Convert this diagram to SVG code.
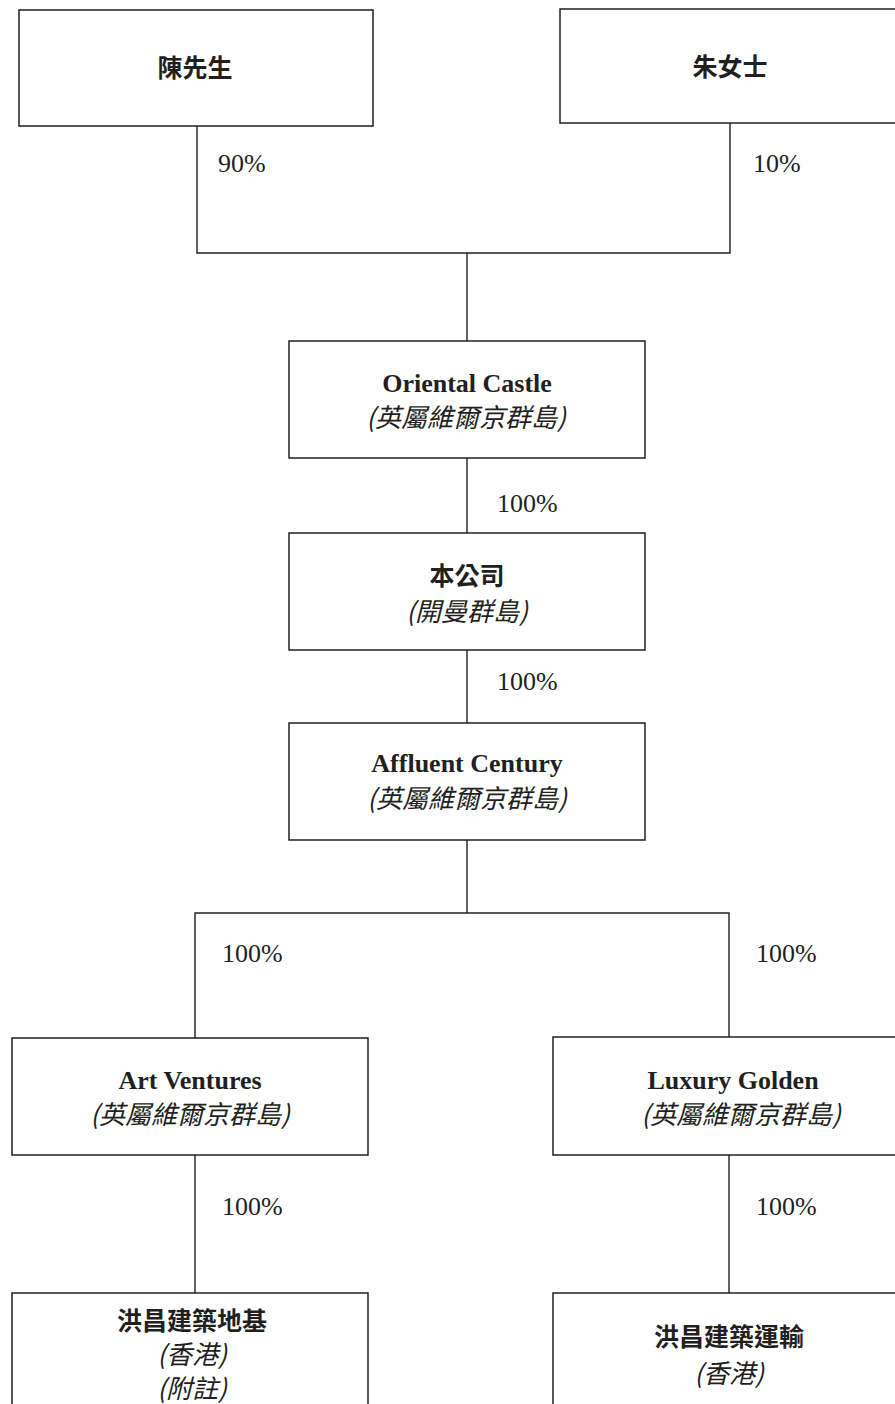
<svg xmlns="http://www.w3.org/2000/svg" width="895" height="1404" viewBox="0 0 895 1404">
<style>
.box{fill:#fff;stroke:#231f20;stroke-width:1.5}
.ln{fill:none;stroke:#231f20;stroke-width:1.4}
.en{font-family:"Liberation Serif","Times New Roman",serif;font-weight:bold;font-size:26px;fill:#231f20;text-anchor:middle}
.zh{font-family:"Noto Sans CJK TC","Noto Sans CJK SC",sans-serif;font-weight:bold;font-size:25px;fill:#231f20;text-anchor:middle}
.it{font-family:"Noto Sans CJK TC","Noto Sans CJK SC",sans-serif;font-style:italic;font-weight:normal;font-size:26px;fill:#231f20;text-anchor:middle}
.pc{font-family:"Liberation Serif","Times New Roman",serif;font-size:26px;fill:#231f20}
</style>
<rect width="895" height="1404" fill="#fff"/>
<g id="connectors">
<polyline class="ln" points="197,126 197,253 730,253 730,123"/>
<line class="ln" x1="467" y1="253" x2="467" y2="341"/>
<line class="ln" x1="467" y1="458" x2="467" y2="533"/>
<line class="ln" x1="467" y1="650" x2="467" y2="723"/>
<line class="ln" x1="467" y1="840" x2="467" y2="913"/>
<polyline class="ln" points="195,1038 195,913 729,913 729,1037"/>
<line class="ln" x1="195" y1="1155" x2="195" y2="1293"/>
<line class="ln" x1="729" y1="1155" x2="729" y2="1293"/>
<text class="pc" x="218" y="172">90%</text>
<text class="pc" x="753" y="172">10%</text>
<text class="pc" x="497" y="512">100%</text>
<text class="pc" x="497" y="690">100%</text>
<text class="pc" x="222" y="962">100%</text>
<text class="pc" x="756" y="962">100%</text>
<text class="pc" x="222" y="1215">100%</text>
<text class="pc" x="756" y="1215">100%</text>
</g>
<g id="chen">
<rect class="box" x="19" y="10" width="354" height="116"/>
<text class="zh" x="195" y="77">陳先生</text>
</g>
<g id="zhu">
<rect class="box" x="560" y="9" width="345" height="114"/>
<text class="zh" x="730" y="76">朱女士</text>
</g>
<g id="oriental">
<rect class="box" x="289" y="341" width="356" height="117"/>
<text class="en" x="467" y="392">Oriental Castle</text>
<text class="it" x="466" y="427">(英屬維爾京群島)</text>
</g>
<g id="company">
<rect class="box" x="289" y="533" width="356" height="117"/>
<text class="zh" x="467" y="585">本公司</text>
<text class="it" x="467" y="621">(開曼群島)</text>
</g>
<g id="affluent">
<rect class="box" x="289" y="723" width="356" height="117"/>
<text class="en" x="467" y="772">Affluent Century</text>
<text class="it" x="467" y="808">(英屬維爾京群島)</text>
</g>
<g id="art">
<rect class="box" x="12" y="1038" width="356" height="117"/>
<text class="en" x="190" y="1089">Art Ventures</text>
<text class="it" x="190" y="1124">(英屬維爾京群島)</text>
</g>
<g id="luxury">
<rect class="box" x="553" y="1037" width="352" height="118"/>
<text class="en" x="733" y="1089">Luxury Golden</text>
<text class="it" x="741" y="1124">(英屬維爾京群島)</text>
</g>
<g id="foundation">
<rect class="box" x="12" y="1293" width="356" height="130"/>
<text class="zh" x="192" y="1330">洪昌建築地基</text>
<text class="it" x="192" y="1364">(香港)</text>
<text class="it" x="192" y="1398">(附註)</text>
</g>
<g id="transport">
<rect class="box" x="553" y="1293" width="352" height="130"/>
<text class="zh" x="729" y="1346">洪昌建築運輸</text>
<text class="it" x="729" y="1383">(香港)</text>
</g>
</svg>
